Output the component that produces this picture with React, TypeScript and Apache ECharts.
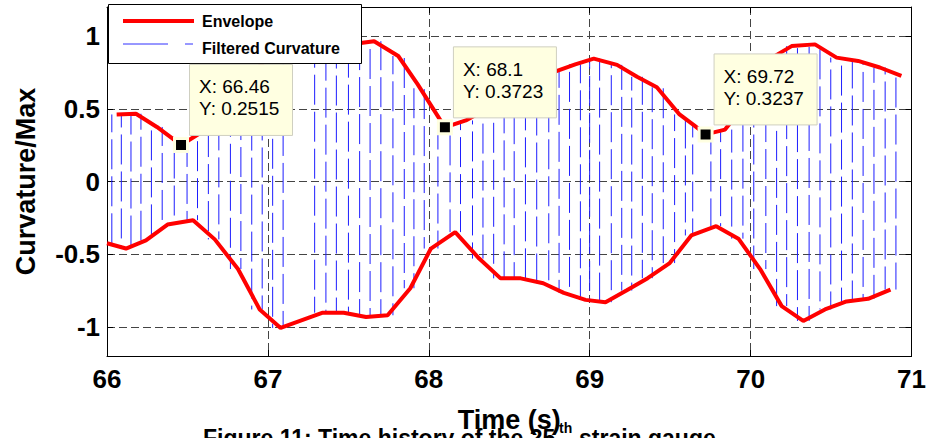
import React, { useEffect, useRef } from "react";
import * as echarts from "echarts";

// ---- data ----
const xTicks = [66, 67, 68, 69, 70, 71];
const yTicks = [-1, -0.5, 0, 0.5, 1];

// upper envelope vertices (time, value)
const upperT = [66.06, 66.18, 66.31, 66.46, 66.59, 66.72, 66.85, 66.98, 67.11, 67.24, 67.38, 67.53, 67.66, 67.81, 67.93, 68.1, 68.23, 68.36, 68.49, 68.63, 68.78, 68.91, 69.025, 69.17, 69.294, 69.417, 69.558, 69.649, 69.72, 69.841, 69.98, 70.13, 70.255, 70.4, 70.534, 70.668, 70.803, 70.937];
const upperV = [0.461, 0.466, 0.375, 0.2515, 0.34, 0.5, 0.68, 0.83, 0.9, 0.92, 0.935, 0.945, 0.965, 0.863, 0.67, 0.3723, 0.42, 0.5, 0.58, 0.66, 0.754, 0.806, 0.845, 0.802, 0.72, 0.648, 0.461, 0.386, 0.3237, 0.357, 0.55, 0.85, 0.931, 0.943, 0.852, 0.829, 0.784, 0.727];

// lower envelope vertices (time, value)
const lowerT = [66.0, 66.118, 66.242, 66.376, 66.535, 66.67, 66.814, 66.949, 67.079, 67.341, 67.471, 67.61, 67.744, 67.885, 68.013, 68.164, 68.313, 68.446, 68.571, 68.711, 68.839, 68.974, 69.098, 69.228, 69.36, 69.497, 69.631, 69.786, 69.924, 70.059, 70.193, 70.327, 70.462, 70.596, 70.73, 70.869];
const lowerV = [-0.425, -0.461, -0.405, -0.296, -0.266, -0.398, -0.602, -0.88, -1.007, -0.902, -0.902, -0.932, -0.92, -0.734, -0.461, -0.348, -0.53, -0.666, -0.666, -0.7, -0.766, -0.814, -0.83, -0.75, -0.665, -0.561, -0.371, -0.307, -0.393, -0.602, -0.857, -0.959, -0.88, -0.825, -0.807, -0.743];

// data tips
const tipX = [66.46, 68.1, 69.72];
const tipY = [0.2515, 0.3723, 0.3237];
const tipXText = ["66.46", "68.1", "69.72"];
const tipYText = ["0.2515", "0.3723", "0.3237"];

const FONT = "'Liberation Sans', Arial, Helvetica, sans-serif";

export default function App() {
  const ref = useRef<HTMLDivElement>(null);

  useEffect(() => {
    if (!ref.current) return;
    const chart = echarts.init(ref.current, undefined, { renderer: "svg" });

    const upper = upperT.map((t, i) => [t, upperV[i]]);
    const lower = lowerT.map((t, i) => [t, lowerV[i]]);
    // filtered curvature: oscillation whose peaks are the envelope vertices
    const peaks = [...upper, ...lower].sort((a, b) => a[0] - b[0]);
    const strokes: number[][] = [];
    for (let i = 1; i < peaks.length; i++) {
      strokes.push([(peaks[i - 1][0] + peaks[i][0]) / 2, peaks[i - 1][1], peaks[i][1]]);
    }

    const axisLine = { show: true, onZero: false, lineStyle: { color: "#000", width: 1 } };
    const tick = { show: true, inside: true, length: 6, lineStyle: { color: "#000", width: 1 } };
    const split = { show: true, lineStyle: { color: "#444", width: 1, type: [8, 4] as any } };
    const labelStyle = { fontFamily: FONT, fontWeight: "bold" as const, fontSize: 26, color: "#000" };

    chart.setOption({
      animation: false,
      backgroundColor: "#fff",
      grid: { left: 107, right: 16, top: 7, bottom: 79, show: false },
      xAxis: [
        {
          type: "value", min: xTicks[0], max: xTicks[xTicks.length - 1], interval: 1,
          axisLine, axisTick: tick, splitLine: split,
          axisLabel: { ...labelStyle, margin: 10 },
          name: "Time (s)", nameLocation: "middle", nameGap: 50,
          nameTextStyle: { fontFamily: FONT, fontWeight: "bold", fontSize: 27, color: "#000" },
        },
        {
          type: "value", position: "top", min: xTicks[0], max: xTicks[xTicks.length - 1], interval: 1,
          axisLine, axisTick: tick, splitLine: { show: false }, axisLabel: { show: false },
        },
      ],
      yAxis: [
        {
          type: "value", min: -1.2, max: 1.2,
          axisLine, axisTick: tick, splitLine: split,
          axisLabel: {
            ...labelStyle, margin: 7, showMinLabel: false, showMaxLabel: false,
            formatter: (v: number) => (yTicks.some((t) => Math.abs(t - v) < 1e-6) ? String(v) : ""),
          },
          name: "Curvature/Max", nameLocation: "middle", nameGap: 68,
          nameTextStyle: { fontFamily: FONT, fontWeight: "bold", fontSize: 27, color: "#000" },
        },
        {
          type: "value", position: "right", min: -1.2, max: 1.2,
          axisLine, axisTick: tick, splitLine: { show: false }, axisLabel: { show: false },
        },
      ],
      series: [
        {
          name: "Filtered Curvature",
          type: "custom",
          xAxisIndex: 0, yAxisIndex: 0,
          z: 2,
          encode: { x: 0, y: [1, 2] },
          data: strokes,
          renderItem: (params: any, api: any) => {
            const x = api.value(0);
            const p1 = api.coord([x, api.value(1)]);
            const p2 = api.coord([x, api.value(2)]);
            return {
              type: "line",
              shape: { x1: p1[0], y1: p1[1], x2: p2[0], y2: p2[1] },
              style: {
                stroke: "#1e1eff", lineWidth: 1, lineDash: [30, 7],
                lineDashOffset: (params.dataIndex * 17) % 37,
              },
            };
          },
        },
        {
          name: "Envelope upper", type: "line", data: upper, symbol: "none", z: 3,
          lineStyle: { color: "#ff0000", width: 4 },
        },
        {
          name: "Envelope lower", type: "line", data: lower, symbol: "none", z: 3,
          lineStyle: { color: "#ff0000", width: 4 },
        },
      ],
    });

    const g: any[] = [];
    // legend
    g.push({ type: "rect", z: 100, shape: { x: 108.5, y: 4.5, width: 253, height: 59 }, style: { fill: "#fff", stroke: "#000", lineWidth: 1 } });
    g.push({ type: "line", z: 101, shape: { x1: 123, y1: 21, x2: 194, y2: 21 }, style: { stroke: "#ff0000", lineWidth: 4 } });
    g.push({ type: "text", z: 101, x: 202, y: 21, style: { text: "Envelope", font: `bold 16px ${FONT}`, fill: "#000", verticalAlign: "middle" } });
    g.push({ type: "line", z: 101, shape: { x1: 123, y1: 44, x2: 168, y2: 44 }, style: { stroke: "#3030ff", lineWidth: 1 } });
    g.push({ type: "line", z: 101, shape: { x1: 185, y1: 44, x2: 193, y2: 44 }, style: { stroke: "#3030ff", lineWidth: 1 } });
    g.push({ type: "text", z: 101, x: 202, y: 48, style: { text: "Filtered Curvature", font: `bold 16px ${FONT}`, fill: "#000", verticalAlign: "middle" } });

    // data tips
    tipX.forEach((tx, i) => {
      const p = chart.convertToPixel({ gridIndex: 0 }, [tx, tipY[i]]) as number[];
      const bx = p[0] + 8;
      const by = p[1] - 81;
      g.push({ type: "rect", z: 110, shape: { x: bx + 0.5, y: by + 0.5, width: 103, height: 71 }, style: { fill: "#ffffe1", stroke: "#cfcfc0", lineWidth: 1 } });
      g.push({ type: "text", z: 111, x: bx + 10, y: by + 23, style: { text: `X: ${tipXText[i]}`, font: `19px ${FONT}`, fill: "#000", verticalAlign: "middle" } });
      g.push({ type: "text", z: 111, x: bx + 10, y: by + 45, style: { text: `Y: ${tipYText[i]}`, font: `19px ${FONT}`, fill: "#000", verticalAlign: "middle" } });
      g.push({ type: "rect", z: 110, shape: { x: p[0] - 6.5, y: p[1] - 6.5, width: 13, height: 13 }, style: { fill: "#000", stroke: "#ffffe1", lineWidth: 3 } });
    });

    // caption (partly cut off by the bottom edge, as in the reference)
    g.push({ type: "text", z: 100, x: 203, y: 426, style: { text: "Figure 11: Time history of the 25", font: `bold 23px ${FONT}`, fill: "#000", verticalAlign: "top" } });
    g.push({ type: "text", z: 100, x: 559, y: 421, style: { text: "th", font: `bold 14px ${FONT}`, fill: "#000", verticalAlign: "top" } });
    g.push({ type: "text", z: 100, x: 579, y: 426, style: { text: "strain gauge", font: `bold 23px ${FONT}`, fill: "#000", verticalAlign: "top" } });

    chart.setOption({ graphic: g });

    return () => chart.dispose();
  }, []);

  return (
    <div
      ref={ref}
      style={{ position: "fixed", left: 0, top: 0, width: 929, height: 438, background: "#fff" }}
    />
  );
}
